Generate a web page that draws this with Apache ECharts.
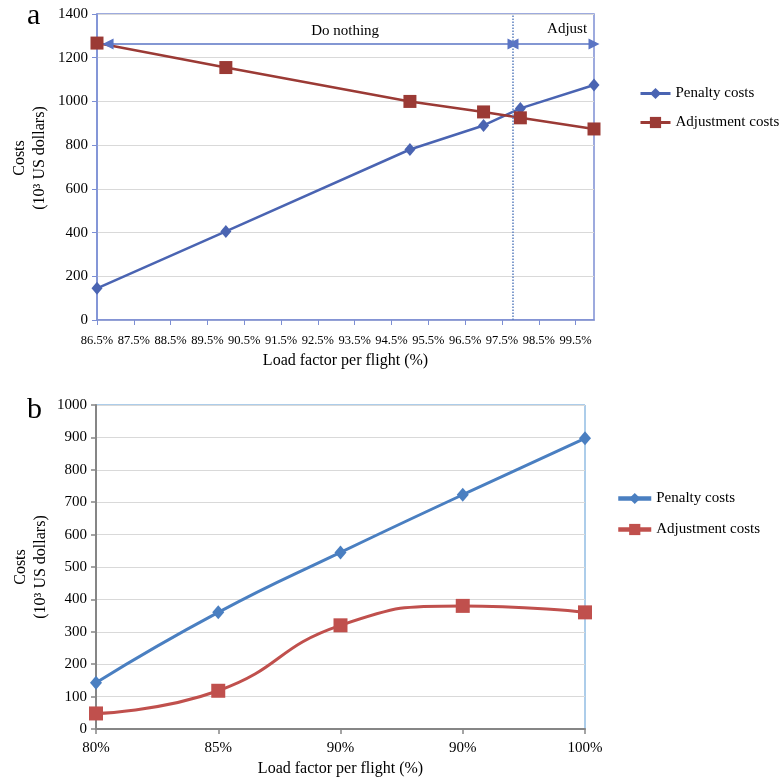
<!DOCTYPE html>
<html><head><meta charset="utf-8">
<script src="https://cdn.jsdelivr.net/npm/echarts@6/dist/echarts.min.js"></script>
<style>
html,body{margin:0;padding:0;background:#fff;}
#a{position:absolute;left:0;top:0;width:783px;height:390px;}
#b{position:absolute;left:0;top:390px;width:783px;height:391px;}
</style>
</head><body><div id="a"></div><div id="b"></div>
<script>
// ---------- Panel a data ----------
const catsA = ['86.5%','87.0%','87.5%','88.0%','88.5%','89.0%','89.5%','90.0%','90.5%','91.0%','91.5%','92.0%','92.5%','93.0%','93.5%','94.0%','94.5%','95.0%','95.5%','96.0%','96.5%','97.0%','97.5%','98.0%','98.5%','99.0%','99.5%','100.0%'];
const penaltyA = [145,null,null,null,null,null,null,405,null,null,null,null,null,null,null,null,null,780,null,null,null,890,null,968,null,null,null,1075];
const adjustA  = [1267,null,null,null,null,null,null,1155,null,null,null,null,null,null,null,null,null,1000,null,null,null,952,null,925,null,null,null,874];
const splitPoint = 97.8;      // load factor of the dotted divider
const arrowLevel = 1263;      // cost level of the arrows
const arrowStart = 86.8;
const arrowEnd = 100;
const noteTexts = ['Do nothing','Adjust'];
const noteX = [93.24, 99.27];
const noteY = [1322, 1331];

// ---------- Panel b data ----------
const catsB = ['80%','85%','90%','90%','100%'];
const penaltyB = [143, 360, 545, 723, 897];
const adjustB  = [48, 118, 320, 380, 360];

const seriesNames = ['Penalty costs','Adjustment costs'];
const FONT = 'Liberation Serif';
const BLUE_A = '#7d8fd4';
const ARROW = '#5a74c4';
const plain = v => String(v);

const chartA = echarts.init(document.getElementById('a'));
chartA.setOption({
  animation:false,
  textStyle:{fontFamily:FONT,color:'#000'},
  graphic:[{type:'text', left:27, top:1, style:{text:'a', font:'30px "Liberation Serif"', fill:'#000'}}],
  legend:{orient:'vertical', left:634, top:81, itemWidth:30, itemHeight:14, itemGap:14,
    lineStyle:{width:3},
    textStyle:{fontFamily:FONT,fontSize:15,color:'#000'}, data:seriesNames},
  grid:{left:97, top:14, width:497, height:306, show:true, borderColor:BLUE_A, borderWidth:1.5, outerBoundsMode:'none', containLabel:false},
  xAxis:[{
    type:'category', data:catsA, boundaryGap:false,
    axisLine:{lineStyle:{color:BLUE_A,width:1.5}},
    axisTick:{interval:1,length:5,lineStyle:{color:BLUE_A}},
    axisLabel:{interval:1,fontSize:12.5,margin:14,color:'#000',fontFamily:FONT},
    splitLine:{show:false},
    name:'Load factor per flight (%)', nameLocation:'middle', nameGap:33, nameMoveOverlap:false,
    nameTextStyle:{fontSize:16,color:'#000',fontFamily:FONT}
  },{
    type:'value', min:86.5, max:100, show:false
  }],
  yAxis:{
    type:'value', min:0, max:1400, interval:200,
    axisLine:{show:true,lineStyle:{color:BLUE_A,width:1.5}},
    axisTick:{show:true,length:5,lineStyle:{color:BLUE_A}},
    axisLabel:{fontSize:15,margin:9,color:'#000',fontFamily:FONT,formatter:plain},
    splitLine:{lineStyle:{color:'#d9d9d9'}},
    name:'Costs\n(10³ US dollars)', nameLocation:'middle', nameGap:47, nameRotate:90, nameMoveOverlap:false,
    nameTextStyle:{fontSize:16,lineHeight:20,color:'#000',fontFamily:FONT,padding:[0,0,0,18]}
  },
  series:[{
    name:seriesNames[0], type:'line', data:penaltyA, connectNulls:true, showAllSymbol:true,
    symbol:'diamond', symbolSize:[11,13], color:'#4a64b2',
    lineStyle:{width:2.5,color:'#4a64b2'}, itemStyle:{color:'#4a64b2'}
  },{
    name:seriesNames[1], type:'line', data:adjustA, connectNulls:true, showAllSymbol:true,
    symbol:'rect', symbolSize:13, color:'#9b3a35',
    lineStyle:{width:2.5,color:'#9b3a35'}, itemStyle:{color:'#9b3a35'}
  },{
    name:'arrows', type:'line', xAxisIndex:1, yAxisIndex:0, data:[], silent:true,
    markLine:{
      silent:true, symbol:['triangle','triangle'], symbolSize:[11,11], animation:false,
      label:{show:false},
      lineStyle:{color:ARROW,width:1.5,type:'solid'},
      data:[
        [{coord:[arrowStart,arrowLevel]},{coord:[splitPoint,arrowLevel]}],
        [{coord:[splitPoint,arrowLevel]},{coord:[arrowEnd,arrowLevel]}]
      ]
    },
    markPoint:{
      silent:true, symbol:'circle', symbolSize:0, animation:false,
      label:{show:true, position:'inside', fontSize:15, color:'#000', fontFamily:FONT, formatter:p=>p.name},
      data: noteTexts.map((t,i)=>({name:t, coord:[noteX[i], noteY[i]]}))
    }
  },{
    name:'divider', type:'line', xAxisIndex:1, yAxisIndex:0, data:[], silent:true,
    markLine:{
      silent:true, symbol:['none','none'], animation:false, label:{show:false},
      lineStyle:{type:'dotted',color:'#5b7fbf',width:1.5},
      data:[{xAxis:splitPoint}]
    }
  }]
});

const chartB = echarts.init(document.getElementById('b'));
chartB.setOption({
  animation:false,
  textStyle:{fontFamily:FONT,color:'#000'},
  graphic:[{type:'text', left:27, top:5, style:{text:'b', font:'30px "Liberation Serif"', fill:'#000'}}],
  legend:{orient:'vertical', left:611, top:96, itemWidth:33, itemHeight:14, itemGap:16,
    lineStyle:{width:4.5},
    textStyle:{fontFamily:FONT,fontSize:15,color:'#000'}, data:seriesNames},
  grid:{left:96, top:15, width:489, height:324, show:true, borderColor:'#5b9bd5', borderWidth:1, outerBoundsMode:'none', containLabel:false},
  xAxis:{
    type:'category', data:catsB, boundaryGap:false,
    axisLine:{lineStyle:{color:'#868686',width:2}},
    axisTick:{length:5,lineStyle:{color:'#868686',width:1.5}},
    axisLabel:{fontSize:15,margin:12,color:'#000',fontFamily:FONT},
    name:'Load factor per flight (%)', nameLocation:'middle', nameGap:32, nameMoveOverlap:false,
    nameTextStyle:{fontSize:16,color:'#000',fontFamily:FONT}
  },
  yAxis:{
    type:'value', min:0, max:1000, interval:100,
    axisLine:{show:true,lineStyle:{color:'#868686',width:2}},
    axisTick:{show:true,length:5,lineStyle:{color:'#868686',width:1.5}},
    axisLabel:{fontSize:15,margin:9,color:'#000',fontFamily:FONT,formatter:plain},
    splitLine:{lineStyle:{color:'#d9d9d9'}},
    name:'Costs\n(10³ US dollars)', nameLocation:'middle', nameGap:45, nameRotate:90, nameMoveOverlap:false,
    nameTextStyle:{fontSize:16,lineHeight:20,color:'#000',fontFamily:FONT}
  },
  series:[{
    name:seriesNames[0], type:'line', data:penaltyB, smooth:true,
    symbol:'diamond', symbolSize:[12,14], color:'#4a7fc1',
    lineStyle:{width:3,color:'#4a7fc1'}, itemStyle:{color:'#4a7fc1'}
  },{
    name:seriesNames[1], type:'line', data:adjustB, smooth:true,
    symbol:'rect', symbolSize:14, color:'#c0504d',
    lineStyle:{width:3,color:'#c0504d'}, itemStyle:{color:'#c0504d'}
  }]
});
</script></body></html>
